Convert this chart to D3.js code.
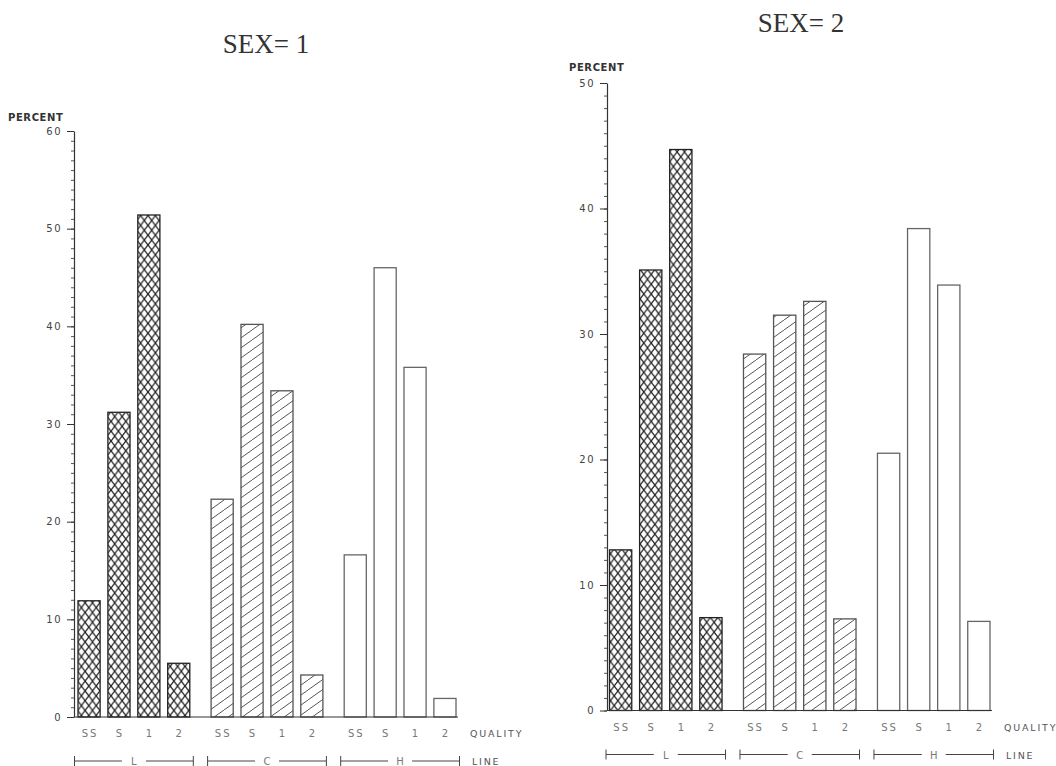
<!DOCTYPE html>
<html>
<head>
<meta charset="utf-8">
<script src="https://cdn.jsdelivr.net/npm/d3@7"></script>
<style>
body { margin: 0; background: #fff; }
svg { display: block; }
</style>
</head>
<body>
<script>
// categories
const lines = ["L", "C", "H"];
const qualities = ["SS", "S", "1", "2"];

// percent values (order SS, S, 1, 2)
const sex1_L = [11.9, 31.2, 51.4, 5.5];
const sex1_C = [22.3, 40.2, 33.4, 4.3];
const sex1_H = [16.6, 46.0, 35.8, 1.9];
const sex2_L = [12.8, 35.1, 44.7, 7.4];
const sex2_C = [28.4, 31.5, 32.6, 7.3];
const sex2_H = [20.5, 38.4, 33.9, 7.1];

const ticks1 = [0, 10, 20, 30, 40, 50, 60];
const ticks2 = [0, 10, 20, 30, 40, 50];

const W = 1056, H = 766;
const svg = d3.select("body").append("svg").attr("width", W).attr("height", H);

// hatch patterns
const defs = svg.append("defs");
function hatch(id, w, h, dirs, color, sw) {
    const p = defs.append("pattern").attr("id", id)
        .attr("patternUnits", "userSpaceOnUse")
        .attr("width", w).attr("height", h);
    p.append("rect").attr("width", w).attr("height", h).attr("fill", "#fff");
    for (const k of [-1, 0, 1]) {
        if (dirs.includes("/"))
            p.append("path").attr("d", `M${k * w},${h} L${k * w + w},0`)
                .attr("stroke", color).attr("stroke-width", sw);
        if (dirs.includes("\\"))
            p.append("path").attr("d", `M${k * w},0 L${k * w + w},${h}`)
                .attr("stroke", color).attr("stroke-width", sw);
    }
}
hatch("cross", 7.4, 9.8, "/\\", "#222", 1.3);
hatch("diag", 14, 10, "/", "#555", 1);

const fills = { L: "url(#cross)", C: "url(#diag)", H: "#fff" };
const strokes = { L: "#222", C: "#555", H: "#666" };

const panels = [
    { title: "SEX= 1", values: [sex1_L, sex1_C, sex1_H], ticks: ticks1, yMax: 60,
      axisX: 74, xRange: [78, 456], yRange: [717, 131],
      titleX: 266, titleY: 53, pctX: 8, pctY: 121 },
    { title: "SEX= 2", values: [sex2_L, sex2_C, sex2_H], ticks: ticks2, yMax: 50,
      axisX: 607, xRange: [609.5, 990], yRange: [710.5, 83],
      titleX: 801, titleY: 32, pctX: 569, pctY: 71 }
];

function drawPanel(p) {
    const g = svg.append("g");

    const x0 = d3.scaleBand().domain(lines).range(p.xRange).paddingInner(0.16).paddingOuter(0);
    const x1 = d3.scaleBand().domain(qualities).range([0, x0.bandwidth()]).paddingInner(0.26).paddingOuter(0);
    const y = d3.scaleLinear().domain([0, p.yMax]).range(p.yRange);

    const rows = lines.flatMap((ln, i) =>
        qualities.map((q, j) => ({ line: ln, quality: q, value: p.values[i][j] })));

    // title
    g.append("text")
        .attr("x", p.titleX).attr("y", p.titleY)
        .attr("text-anchor", "middle")
        .attr("font-family", "Liberation Serif, serif")
        .attr("font-size", 27).attr("fill", "#333")
        .text(p.title);

    g.append("text")
        .attr("x", p.pctX).attr("y", p.pctY)
        .attr("font-family", "DejaVu Sans, sans-serif")
        .attr("font-size", 10).attr("font-weight", "bold")
        .attr("letter-spacing", 0.6).attr("fill", "#333")
        .text("PERCENT");

    // bars
    g.selectAll("rect.bar").data(rows).join("rect")
        .attr("class", "bar")
        .attr("x", d => x0(d.line) + x1(d.quality))
        .attr("y", d => y(d.value))
        .attr("width", x1.bandwidth())
        .attr("height", d => y(0) - y(d.value))
        .attr("fill", d => fills[d.line])
        .attr("stroke", d => strokes[d.line])
        .attr("stroke-width", 1.3);

    // y axis: minor ticks every 1, major every 10
    const minor = g.append("g").attr("transform", `translate(${p.axisX},0)`)
        .call(d3.axisLeft(y).tickValues(d3.range(0, p.yMax + 1)).tickSize(3).tickSizeOuter(0).tickFormat(""));
    minor.select(".domain").attr("stroke", "#333").attr("stroke-width", 1.2);
    minor.selectAll(".tick line").attr("stroke", "#555");

    const major = g.append("g").attr("transform", `translate(${p.axisX},0)`)
        .call(d3.axisLeft(y).tickValues(p.ticks).tickSize(7).tickSizeOuter(0).tickPadding(5));
    major.select(".domain").remove();
    major.selectAll(".tick line").attr("stroke", "#333");
    major.selectAll(".tick text")
        .attr("font-family", "DejaVu Sans, sans-serif")
        .attr("font-size", 10).attr("letter-spacing", 1.5).attr("fill", "#444");

    // baseline
    const xEnd = p.xRange[1] + 2;
    g.append("line")
        .attr("x1", p.axisX).attr("x2", xEnd)
        .attr("y1", y(0)).attr("y2", y(0))
        .attr("stroke", "#333").attr("stroke-width", 1.2);

    // quality labels
    const qy = y(0) + 20;
    g.selectAll("text.q").data(rows).join("text")
        .attr("class", "q")
        .attr("x", d => x0(d.line) + x1(d.quality) + x1.bandwidth() / 2 + 1)
        .attr("y", qy)
        .attr("text-anchor", "middle")
        .attr("font-family", "DejaVu Sans, sans-serif")
        .attr("font-size", 10).attr("letter-spacing", 2).attr("fill", "#777")
        .text(d => d.quality);

    // line brackets
    const ly = y(0) + 44;
    const br = g.selectAll("g.br").data(lines).join("g").attr("class", "br");
    const a = d => x0(d) - 3.5, b = d => x0(d) + x0.bandwidth() + 3.5, c = d => x0(d) + x0.bandwidth() / 2;
    br.append("path")
        .attr("d", d => `M${a(d)},${ly - 5}V${ly + 5}M${a(d)},${ly}H${c(d) - 12}` +
            `M${c(d) + 12},${ly}H${b(d)}M${b(d)},${ly - 5}V${ly + 5}`)
        .attr("stroke", "#444").attr("stroke-width", 1).attr("fill", "none");
    br.append("text")
        .attr("x", d => c(d)).attr("y", ly + 4)
        .attr("text-anchor", "middle")
        .attr("font-family", "DejaVu Sans, sans-serif")
        .attr("font-size", 10).attr("fill", "#777")
        .text(d => d);

    g.append("text")
        .attr("x", xEnd + 12).attr("y", qy)
        .attr("font-family", "DejaVu Sans, sans-serif")
        .attr("font-size", 9.5).attr("letter-spacing", 1.8).attr("fill", "#555")
        .text("QUALITY");
    g.append("text")
        .attr("x", xEnd + 14).attr("y", ly + 4)
        .attr("font-family", "DejaVu Sans, sans-serif")
        .attr("font-size", 9.5).attr("letter-spacing", 1.8).attr("fill", "#555")
        .text("LINE");
}

panels.forEach(drawPanel);
</script>
</body>
</html>
